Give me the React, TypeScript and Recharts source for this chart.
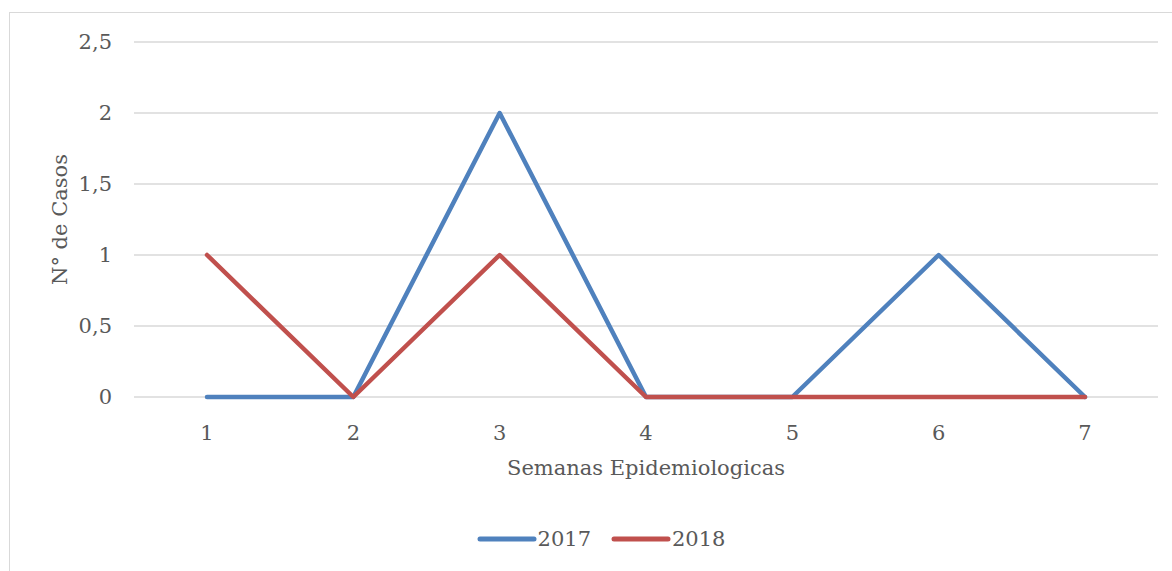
import { CartesianGrid, Legend, Line, LineChart, XAxis, YAxis } from "recharts"

// Semanas epidemiologicas 1..7
const weeks = ["1", "2", "3", "4", "5", "6", "7"]
const cases2017 = [0, 0, 2, 0, 0, 1, 0]
const cases2018 = [1, 0, 1, 0, 0, 0, 0]
const yTicks = [0, 0.5, 1, 1.5, 2, 2.5]

const series = [
  { key: "2017", color: "#4F81BD" },
  { key: "2018", color: "#C0504D" },
]

const data = weeks.map((w, i) => ({ week: w, "2017": cases2017[i], "2018": cases2018[i] }))

const FONT = "'DejaVu Serif', serif"
const FS = 21
const TEXT = "#595959"

const LegendContent = () => (
  <div
    style={{
      display: "flex",
      justifyContent: "center",
      alignItems: "center",
      paddingLeft: 30,
      fontFamily: FONT,
      fontSize: FS,
      color: TEXT,
    }}
  >
    {series.map((s) => (
      <div key={s.key} style={{ display: "flex", alignItems: "center", margin: "0 10px" }}>
        <svg width={60} height={10}>
          <line x1={3} y1={5} x2={57} y2={5} stroke={s.color} strokeWidth={5} strokeLinecap="round" />
        </svg>
        <span style={{ marginLeft: 1 }}>{s.key}</span>
      </div>
    ))}
  </div>
)

export default function App() {
  return (
    <div style={{ position: "fixed", left: 0, top: 0, width: 1172, height: 571, overflow: "hidden", background: "#fff" }}>
      <div
        style={{
          position: "absolute",
          left: 9,
          top: 12,
          width: 1200,
          height: 600,
          border: "1px solid #d9d9d9",
          boxSizing: "border-box",
        }}
      />
      <div style={{ position: "absolute", left: 0, top: 0 }}>
        <LineChart width={1172} height={571} data={data} margin={{ top: 42, right: 14, left: 0, bottom: 0 }}>
          <CartesianGrid vertical={false} stroke="#d9d9d9" strokeWidth={1.5} />
          <XAxis
            dataKey="week"
            height={174}
            axisLine={false}
            tickLine={false}
            tickSize={0}
            tickMargin={28}
            padding={{ left: 73, right: 73 }}
            tick={{ fontFamily: FONT, fontSize: FS, fill: TEXT }}
            label={{
              value: "Semanas Epidemiologicas",
              position: "insideTop",
              offset: 63,
              style: { fontFamily: FONT, fontSize: FS, fill: TEXT },
            }}
          />
          <YAxis
            width={134}
            domain={[0, 2.5]}
            ticks={yTicks}
            axisLine={false}
            tickLine={false}
            tickSize={0}
            tickMargin={22}
            tickFormatter={(v: number) => String(v).replace(".", ",")}
            tick={{ fontFamily: FONT, fontSize: FS, fill: TEXT }}
            label={{
              value: "N° de Casos",
              angle: -90,
              position: "insideLeft",
              offset: 60,
              style: { textAnchor: "middle", fontFamily: FONT, fontSize: FS, fill: TEXT },
            }}
          />
          <Legend verticalAlign="middle" layout="horizontal" wrapperStyle={{ top: 527, left: 0, width: 1172 }} content={<LegendContent />} />
          {series.map((s) => (
            <Line
              key={s.key}
              type="linear"
              dataKey={s.key}
              stroke={s.color}
              strokeWidth={4.5}
              strokeLinecap="round"
              strokeLinejoin="round"
              dot={false}
              activeDot={false}
              isAnimationActive={false}
            />
          ))}
        </LineChart>
      </div>
    </div>
  )
}
